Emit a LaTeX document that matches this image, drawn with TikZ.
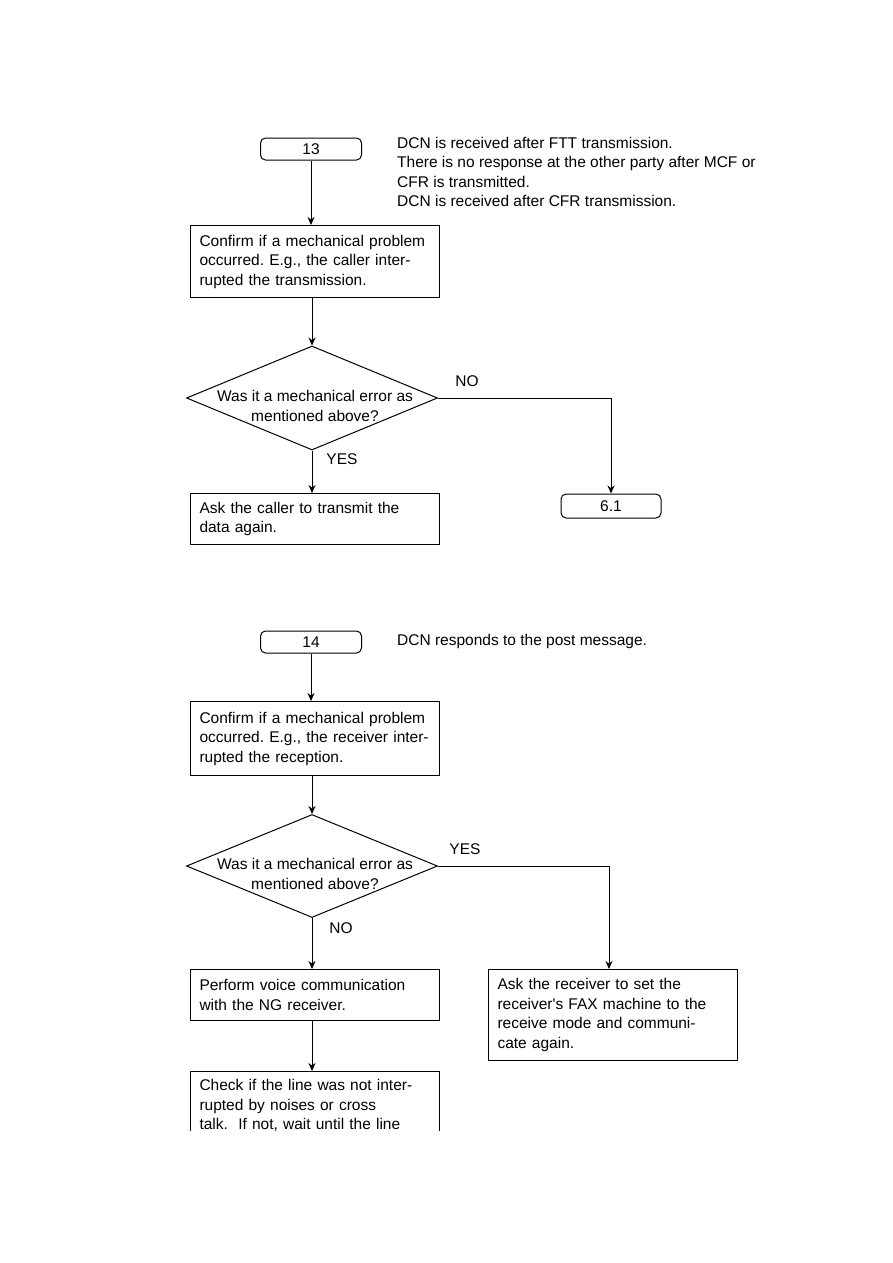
\documentclass[tikz,border=0pt]{standalone}
\usepackage{fontspec}
\setmainfont{Liberation Sans}
\usepackage{tikz}
\usetikzlibrary{positioning,arrows.meta,shapes.geometric}
\frenchspacing

\begin{document}
\begin{tikzpicture}[
        x=1pt, y=-1pt,
        font=\fontsize{15.5}{19.5}\selectfont,
        box/.style={draw, line width=1pt, align=left, text width=231pt, inner xsep=9pt, inner ysep=0pt, anchor=north west},
        term/.style={draw, line width=1pt, rounded corners=5pt, minimum width=101pt, minimum height=22pt, inner sep=0pt},
        decision/.style={draw, line width=1pt, diamond, minimum width=251pt, minimum height=104pt, inner sep=0pt},
        note/.style={align=left, inner sep=0pt, anchor=north west},
        line/.style={-{Stealth[length=8pt,width=7pt]}, line width=1pt}
    ]
        \useasboundingbox (0,0) rectangle (893,1263);

        % first chart
        \node[term] (t13) at (311,149) {13};
        \node[note] (note13) at (397,137) {DCN is received after FTT transmission.\\There is no response at the other party after MCF or\\CFR is transmitted.\\DCN is received after CFR transmission.};
        \node[box, minimum height=72pt] (confirm1) at (190,225) {Confirm if a mechanical problem\\occurred. E.g., the caller inter-\\rupted the transmission.};
        \node[decision] (dec1) at (312,398) {};
        \node[align=center, inner sep=0pt] (dec1txt) at (315,406) {Was it a mechanical error as\\mentioned above?};
        \node (no1) at (467,381) {NO};
        \node (yes1) at (342,459) {YES};
        \node[box, minimum height=51pt] (ask1) at (190,493) {Ask the caller to transmit the\\data again.};
        \node[term, minimum height=24pt, minimum width=100pt] (t61) at (611,506) {6.1};

        \draw[line] (t13) -- (t13 |- confirm1.north);
        \draw[line] (dec1 |- confirm1.south) -- (dec1.north);
        \draw[line] (dec1.south) -- (dec1 |- ask1.north);
        \draw[line] (dec1.east) -| (t61.north);

        % second chart
        \node[term] (t14) at (311,642) {14};
        \node[note] (note14) at (397,634) {DCN responds to the post message.};
        \node[box, minimum height=74pt] (confirm2) at (190,701) {Confirm if a mechanical problem\\occurred. E.g., the receiver inter-\\rupted the reception.};
        \node[decision, minimum height=103pt] (dec2) at (312,866) {};
        \node[align=center, inner sep=0pt] (dec2txt) at (315,874) {Was it a mechanical error as\\mentioned above?};
        \node (yes2) at (465,849) {YES};
        \node (no2) at (341,928) {NO};
        \node[box, minimum height=51pt] (voice) at (190,969) {Perform voice communication\\with the NG receiver.};
        \node[box, minimum height=91pt] (askrecv) at (488,969) {Ask the receiver to set the\\receiver\textquotesingle s FAX machine to the\\receive mode and communi-\\cate again.};
        \begin{scope}
            \clip (0,0) rectangle (893,1130);
            \node[box, minimum height=68pt] (check) at (190,1071) {Check if the line was not inter-\\rupted by noises or cross\\talk.\ \ If not, wait until the line};
        \end{scope}

        \draw[line] (t14) -- (t14 |- confirm2.north);
        \draw[line] (dec2 |- confirm2.south) -- (dec2.north);
        \draw[line] (dec2.south) -- (dec2 |- voice.north);
        \draw[line] (dec2.east) -| ([xshift=-4pt]askrecv.north);
        \draw[line] (dec2 |- voice.south) -- (dec2 |- check.north);
    \end{tikzpicture}
\end{document}
